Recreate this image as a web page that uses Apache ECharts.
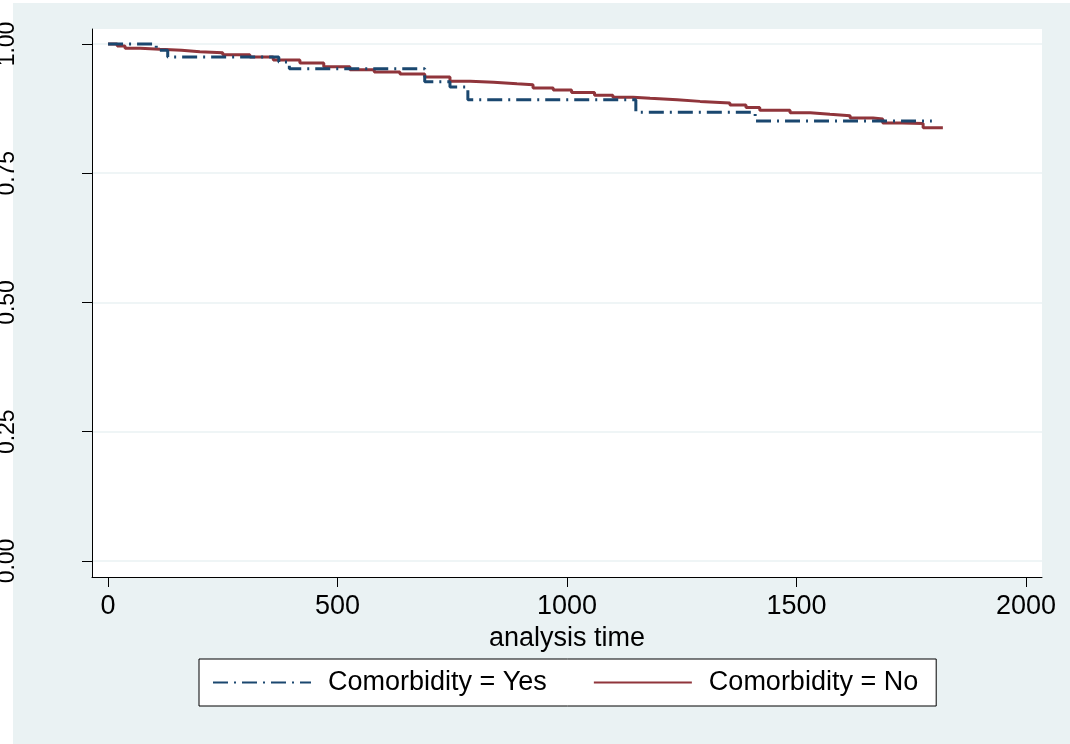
<!DOCTYPE html>
<html>
<head>
<meta charset="utf-8">
<title>Kaplan-Meier survival estimates</title>
<script src="https://cdn.jsdelivr.net/npm/echarts@6/dist/echarts.min.js"></script>
<style>
  html, body { margin: 0; padding: 0; background: #ffffff; }
  #chart { width: 1070px; height: 744px; }
</style>
</head>
<body>
<div id="chart"></div>
<script>
// Kaplan-Meier survivor estimates by comorbidity group (time of each drop, survival after it)
const timeYes = [0, 105, 130, 372, 395, 690, 745, 784, 1150, 1410, 1795];
const survYes = [1.000, 0.988, 0.975, 0.965, 0.952, 0.927, 0.917, 0.892, 0.868, 0.851, 0.851];

const timeNo = [0, 20, 37, 70, 113, 160, 200, 250, 309, 360, 418, 470, 527, 580, 636, 690,
  745, 789, 840, 891, 926, 970, 1010, 1060, 1100, 1144, 1181, 1240, 1290, 1355, 1390,
  1420, 1486, 1530, 1573, 1617, 1667, 1688, 1730, 1776, 1819];
const survNo = [1.000, 0.996, 0.992, 0.990, 0.988, 0.985, 0.983, 0.979, 0.975, 0.969, 0.963,
  0.956, 0.950, 0.946, 0.942, 0.936, 0.928, 0.926, 0.923, 0.921, 0.915, 0.911, 0.906,
  0.901, 0.897, 0.895, 0.892, 0.889, 0.886, 0.882, 0.877, 0.872, 0.867, 0.864, 0.861,
  0.857, 0.855, 0.847, 0.846, 0.838, 0.838];

const xTicks = [0, 500, 1000, 1500, 2000];
const yTicks = [0, 0.25, 0.5, 0.75, 1];

const seriesNames = ['Comorbidity = Yes', 'Comorbidity = No'];
const NAVY = '#1a476f';
const MAROON = '#90353b';
const BG = '#eaf2f3';
const FONT = 'Liberation Sans, Arial, sans-serif';

const zip = (xs, ys) => xs.map((x, i) => [x, ys[i]]);

const chart = echarts.init(document.getElementById('chart'), null, { renderer: 'canvas' });

chart.setOption({
  backgroundColor: '#ffffff',
  animation: false,
  textStyle: { fontFamily: FONT },
  graphic: [{
    type: 'rect',
    z: -10,
    shape: { x: 13, y: 3, width: 1057, height: 741 },
    style: { fill: BG }
  }],
  grid: {
    left: 92, right: 28, top: 29, bottom: 167,
    containLabel: false,
    outerBoundsMode: 'none',
    show: true, backgroundColor: '#ffffff', borderWidth: 0
  },
  xAxis: {
    type: 'value',
    min: -35, max: 2035,
    name: 'analysis time',
    nameLocation: 'middle',
    nameGap: 33,
    nameTextStyle: { color: '#000', fontSize: 27, fontFamily: FONT },
    axisLine: { onZero: false, lineStyle: { color: '#000', width: 1 } },
    axisTick: { show: true, length: 10, customValues: xTicks, lineStyle: { color: '#000', width: 1 } },
    axisLabel: {
      customValues: xTicks, color: '#000', fontSize: 27, fontFamily: FONT, margin: 16,
      formatter: v => String(v)
    },
    splitLine: { show: false }
  },
  yAxis: {
    type: 'value',
    min: -0.031, max: 1.029,
    axisLine: { show: true, onZero: false, lineStyle: { color: '#000', width: 1 } },
    axisTick: { show: true, length: 10, customValues: yTicks, lineStyle: { color: '#000', width: 1 } },
    axisLabel: {
      customValues: yTicks, rotate: 90, color: '#000', fontSize: 23, fontFamily: FONT, margin: 73,
      formatter: v => v.toFixed(2)
    },
    splitLine: { show: true, lineStyle: { color: BG, width: 1.5 } }
  },
  legend: {
    data: seriesNames,
    left: 199, top: 659,
    orient: 'horizontal',
    backgroundColor: '#ffffff',
    borderColor: '#000', borderWidth: 1, borderRadius: 0,
    padding: [10, 18, 10, 13],
    itemWidth: 98, itemHeight: 14, itemGap: 46,
    itemStyle: { color: 'transparent', borderColor: 'transparent', borderWidth: 0 },
    textStyle: { color: '#000', fontSize: 27, fontFamily: FONT, padding: [0, 0, 0, 12] }
  },
  series: [
    {
      name: seriesNames[0],
      type: 'line',
      step: 'end',
      symbol: 'none',
      z: 3,
      data: zip(timeYes, survYes),
      lineStyle: { color: NAVY, width: 3, type: [15, 6, 2, 6], cap: 'butt' },
      itemStyle: { color: NAVY }
    },
    {
      name: seriesNames[1],
      type: 'line',
      step: 'end',
      symbol: 'none',
      z: 2,
      data: zip(timeNo, survNo),
      lineStyle: { color: MAROON, width: 3 },
      itemStyle: { color: MAROON }
    }
  ]
});
</script>
</body>
</html>
